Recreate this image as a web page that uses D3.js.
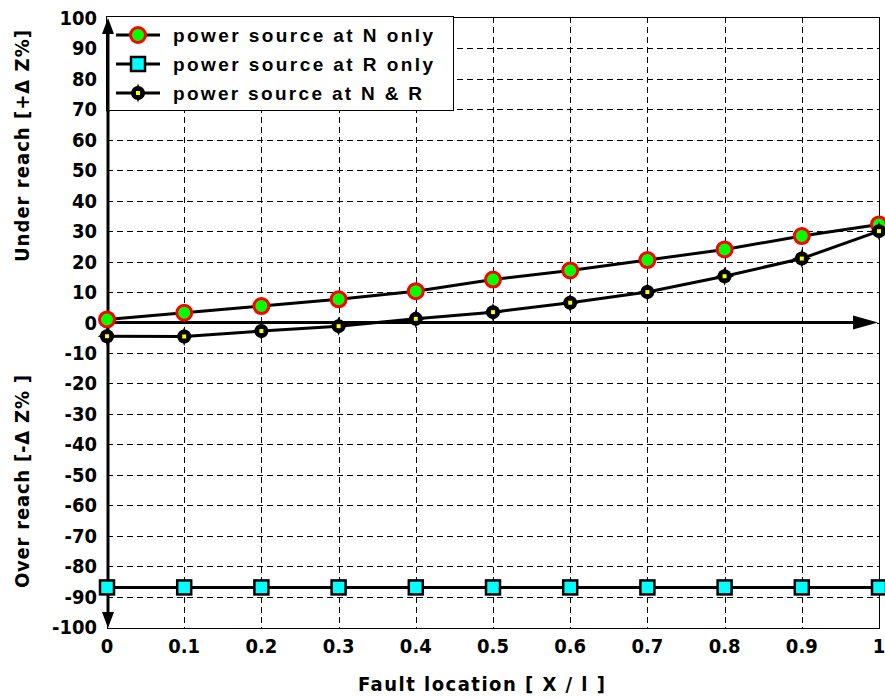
<!DOCTYPE html>
<html>
<head>
<meta charset="utf-8">
<script src="https://cdn.jsdelivr.net/npm/d3@7"></script>
<style>
  body { margin: 0; background: #fff; }
  svg { display: block; }
  .tick-label { font-family: "DejaVu Sans Condensed", "Liberation Sans Narrow", "Liberation Sans", sans-serif; font-weight: bold; }
</style>
</head>
<body>
<div id="chart"></div>
<script>

var faultLocation = [0, 0.1, 0.2, 0.3, 0.4, 0.5, 0.6, 0.7, 0.8, 0.9, 1];
var sourceNOnly = [1, 3.2, 5.4, 7.6, 10.3, 14.1, 17.1, 20.5, 24, 28.4, 32.2];
var sourceROnly = [-87, -87, -87, -87, -87, -87, -87, -87, -87, -87, -87];
var sourceNR = [-4.5, -4.6, -2.8, -1.2, 1.2, 3.4, 6.5, 10, 15.2, 21, 30];

var xTicks = [0, 0.1, 0.2, 0.3, 0.4, 0.5, 0.6, 0.7, 0.8, 0.9, 1];
var yTicks = [-100, -90, -80, -70, -60, -50, -40, -30, -20, -10, 0, 10, 20, 30, 40, 50, 60, 70, 80, 90, 100];
var legendLabels = ["power source at N only", "power source at R only", "power source at N & R"];

var width = 885, height = 697;
var pLeft = 107, pRight = 879, pTop = 17, pBottom = 628;

var x = d3.scaleLinear().domain([0, 1]).range([pLeft, pRight]);
var y = d3.scaleLinear().domain([-100, 100]).range([pBottom - 1, pTop + 1]);

var svg = d3.select('#chart').append('svg')
  .attr('width', width)
  .attr('height', height);

// grid
svg.append('g').selectAll('line')
  .data(yTicks.filter(function(d){ return d > -100 && d < 100; }))
  .enter().append('line')
  .attr('x1', pLeft).attr('x2', pRight)
  .attr('y1', function(d){ return Math.round(y(d)) + 0.5; })
  .attr('y2', function(d){ return Math.round(y(d)) + 0.5; })
  .attr('stroke', '#000')
  .attr('stroke-dasharray', '6,4');

svg.append('g').selectAll('line')
  .data(xTicks.filter(function(d){ return d > 0 && d < 1; }))
  .enter().append('line')
  .attr('x1', function(d){ return Math.round(x(d)) + 0.5; })
  .attr('x2', function(d){ return Math.round(x(d)) + 0.5; })
  .attr('y1', pTop).attr('y2', pBottom)
  .attr('stroke', '#000')
  .attr('stroke-dasharray', '6,4');

// frame
svg.append('rect')
  .attr('x', pLeft + 0.5).attr('y', pTop + 0.5)
  .attr('width', pRight - pLeft).attr('height', pBottom - pTop)
  .attr('fill', 'none')
  .attr('stroke', '#000');

// tick labels
svg.append('g').selectAll('text')
  .data(yTicks)
  .enter().append('text')
  .attr('class', 'tick-label')
  .attr('x', 97)
  .attr('y', function(d){ return y(d) + 7; })
  .attr('text-anchor', 'end')
  .style('font-size', '20px')
  .text(function(d){ return d; });

svg.append('g').selectAll('text')
  .data(xTicks)
  .enter().append('text')
  .attr('class', 'tick-label')
  .attr('x', function(d){ return x(d); })
  .attr('y', 653)
  .attr('text-anchor', 'middle')
  .style('font-size', '20px')
  .text(function(d){ return d; });

// axis titles
svg.append('text')
  .attr('class', 'tick-label')
  .attr('x', 358).attr('y', 691)
  .attr('textLength', 247)
  .attr('lengthAdjust', 'spacing')
  .style('font-size', '20px')
  .text('Fault  location  [ X / l ]');

svg.append('text')
  .attr('class', 'tick-label')
  .attr('transform', 'translate(29,262) rotate(-90)')
  .attr('textLength', 232)
  .attr('lengthAdjust', 'spacing')
  .style('font-size', '20px')
  .text('Under reach [+\u0394  Z%]');

svg.append('text')
  .attr('class', 'tick-label')
  .attr('transform', 'translate(29,588) rotate(-90)')
  .attr('textLength', 213)
  .attr('lengthAdjust', 'spacing')
  .style('font-size', '20px')
  .text('Over reach [-\u0394  Z% ]');

// axes with arrows
svg.append('line')
  .attr('x1', pLeft + 1).attr('x2', pLeft + 1)
  .attr('y1', pTop + 10).attr('y2', pBottom - 10)
  .attr('stroke', '#000').attr('stroke-width', 3);

svg.append('path')
  .attr('d', 'M' + (pLeft + 1) + ',' + pBottom + 'l-6,-16h12z')
  .attr('fill', '#000');

svg.append('line')
  .attr('x1', pLeft).attr('x2', pRight - 20)
  .attr('y1', y(0)).attr('y2', y(0))
  .attr('stroke', '#000').attr('stroke-width', 3);
svg.append('path')
  .attr('d', 'M' + (pRight - 1) + ',' + y(0) + 'l-25,-7v14z')
  .attr('fill', '#000');

// series
var line = d3.line()
  .x(function(d, i){ return x(faultLocation[i]); })
  .y(function(d){ return y(d); });

[sourceNOnly, sourceROnly, sourceNR].forEach(function(s){
  svg.append('path')
    .datum(s)
    .attr('d', line)
    .attr('fill', 'none')
    .attr('stroke', '#000')
    .attr('stroke-width', 3);
});

function drawMarker(g, kind, cx, cy) {
  if (kind === 0) {
    g.append('circle').attr('cx', cx).attr('cy', cy).attr('r', 7.5)
      .attr('fill', '#00ff00').attr('stroke', '#ff0000').attr('stroke-width', 3);
  } else if (kind === 1) {
    g.append('rect').attr('x', cx - 7).attr('y', cy - 7).attr('width', 14).attr('height', 14)
      .attr('fill', '#00ffff').attr('stroke', '#000').attr('stroke-width', 2.5);
  } else {
    g.append('circle').attr('cx', cx).attr('cy', cy).attr('r', 7).attr('fill', '#000');
    g.append('path').attr('d', 'M' + cx + ',' + (cy - 9.5) + 'l3.5,9.5l-3.5,9.5l-3.5,-9.5z').attr('fill', '#000');
    g.append('path').attr('d', 'M' + (cx - 9.5) + ',' + cy + 'l9.5,3.5l9.5,-3.5l-9.5,-3.5z').attr('fill', '#000');
    g.append('rect').attr('x', cx - 2).attr('y', cy - 2).attr('width', 4).attr('height', 4)
      .attr('fill', '#ffff00');
  }
}

var markers = svg.append('g');
[sourceNOnly, sourceROnly, sourceNR].forEach(function(s, k){
  s.forEach(function(v, i){
    drawMarker(markers, k, x(faultLocation[i]), y(v));
  });
});

// legend
var legend = svg.append('g');
legend.append('rect')
  .attr('x', 106.5).attr('y', 16.5)
  .attr('width', 347).attr('height', 94)
  .attr('fill', '#fff').attr('stroke', '#000');

legendLabels.forEach(function(t, i){
  var ly = 35 + i * 29;
  legend.append('line')
    .attr('x1', 116).attr('x2', 160)
    .attr('y1', ly).attr('y2', ly)
    .attr('stroke', '#000').attr('stroke-width', 3);
  drawMarker(legend, i, 138, ly);
  legend.append('text')
    .attr('x', 173).attr('y', ly + 7)
    .attr('textLength', i === 2 ? 249 : 260)
    .attr('lengthAdjust', 'spacing')
    .style('font-family', '"Liberation Sans", Arial, sans-serif')
    .style('font-weight', 'bold')
    .style('font-size', '19px')
    .text(t);
});

// y axis top part and arrow drawn over legend
svg.append('line')
  .attr('x1', pLeft + 1).attr('x2', pLeft + 1)
  .attr('y1', pTop + 10).attr('y2', 112)
  .attr('stroke', '#000').attr('stroke-width', 3);
svg.append('path')
  .attr('d', 'M' + (pLeft + 1) + ',' + (pTop + 1) + 'l-6,16h12z')
  .attr('fill', '#000');

</script>
</body>
</html>
